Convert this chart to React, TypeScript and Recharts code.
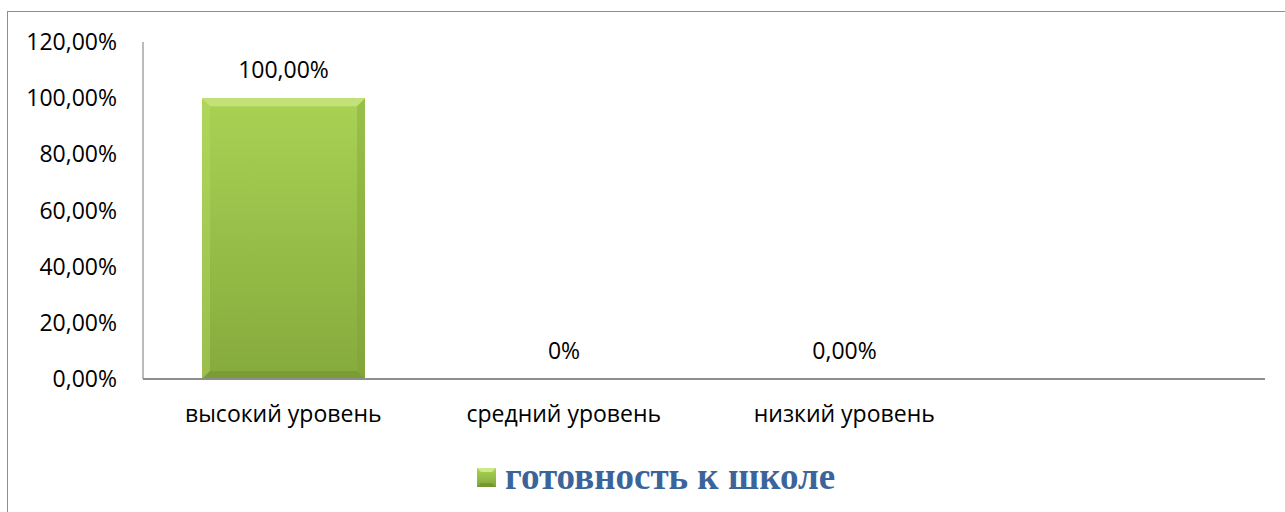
import { BarChart, Bar, XAxis, YAxis, LabelList, Legend } from 'recharts';

const levels = ['высокий уровень', 'средний уровень', 'низкий уровень', ''];
const readiness = [100, 0, 0, null];
const valueLabels = ['100,00%', '0%', '0,00%', ''];
const yTicks = [0, 20, 40, 60, 80, 100, 120];
const seriesName = 'готовность к школе';

const data = levels.map((name, i) => ({ name, value: readiness[i], label: valueLabels[i] }));

const fmtPct = (v: number) => `${v.toFixed(2).replace('.', ',')}%`;

const BevelBar = (props: any) => {
  const { x, y, width: w, height: h } = props;
  if (!h || h <= 0) return null;
  const b = Math.min(8, h / 2, w / 2);
  return (
    <g>
      <rect x={x} y={y} width={w} height={h} fill="url(#barGrad)" />
      <polygon points={`${x},${y} ${x + w},${y} ${x + w - b},${y + b} ${x + b},${y + b}`} fill="#c2e279" />
      <polygon points={`${x},${y} ${x + b},${y + b} ${x + b},${y + h - b} ${x},${y + h}`} fill="#b8dc66" opacity={0.4} />
      <polygon points={`${x + w},${y} ${x + w - b},${y + b} ${x + w - b},${y + h - b} ${x + w},${y + h}`} fill="#7c9e35" opacity={0.35} />
      <polygon points={`${x},${y + h} ${x + b},${y + h - b} ${x + w - b},${y + h - b} ${x + w},${y + h}`} fill="#6b8b2b" opacity={0.45} />
    </g>
  );
};

const LegendBox = () => (
  <div style={{ display: 'flex', alignItems: 'center' }}>
    <svg width={19} height={19} style={{ marginRight: 9 }}>
      <defs>
        <linearGradient id="legGrad" x1="0" y1="0" x2="0" y2="1">
          <stop offset="0%" stopColor="#aad456" />
          <stop offset="100%" stopColor="#82a63a" />
        </linearGradient>
      </defs>
      <rect x={0} y={0} width={19} height={19} fill="url(#legGrad)" />
      <polygon points="0,0 19,0 15,4 4,4" fill="#cde98a" />
      <polygon points="0,19 4,15 15,15 19,19" fill="#6b8b2b" opacity={0.6} />
    </svg>
    <span
      style={{
        fontFamily: '"Liberation Serif", "Times New Roman", serif',
        fontWeight: 'bold',
        fontSize: 37,
        lineHeight: '36px',
        color: '#3b659a',
        whiteSpace: 'nowrap',
      }}
    >
      {seriesName}
    </span>
  </div>
);

export default function App() {
  return (
    <div
      style={{
        position: 'fixed',
        left: 0,
        top: 0,
        width: 1285,
        height: 512,
        overflow: 'hidden',
        background: '#fff',
      }}
    >
      <div
        style={{
          position: 'absolute',
          left: 7,
          top: 11,
          width: 1400,
          height: 600,
          border: '1.5px solid #8e8e8e',
        }}
      />
      <div style={{ position: 'absolute', left: 0, top: 0 }}>
        <BarChart
          width={1285}
          height={512}
          data={data}
          margin={{ top: 42, right: 20, bottom: 0, left: 0 }}
          barSize={163}
        >
          <defs>
            <linearGradient id="barGrad" x1="0" y1="0" x2="0" y2="1">
              <stop offset="0%" stopColor="#a9d254" />
              <stop offset="100%" stopColor="#86aa3d" />
            </linearGradient>
          </defs>
          <XAxis
            dataKey="name"
            height={133}
            tickLine={false}
            tickSize={0}
            tickMargin={27}
            interval={0}
            axisLine={{ stroke: '#8e8e8e', strokeWidth: 2 }}
            tick={{ fill: '#000', fontSize: 23, fontFamily: '"Open Sans", sans-serif' }}
          />
          <YAxis
            width={143}
            domain={[0, 120]}
            ticks={yTicks}
            tickFormatter={fmtPct}
            tickLine={false}
            tickSize={0}
            tickMargin={26}
            axisLine={{ stroke: '#8e8e8e', strokeWidth: 1.2 }}
            tick={{ fill: '#000', fontSize: 23, fontFamily: '"Open Sans", sans-serif' }}
          />
          <Legend
            layout="horizontal"
            verticalAlign="middle"
            align="center"
            wrapperStyle={{ left: 477, top: 459, width: 430, height: 36 }}
            content={() => <LegendBox />}
          />
          <Bar dataKey="value" name={seriesName} shape={BevelBar} isAnimationActive={false}>
            <LabelList
              dataKey="label"
              position="top"
              offset={20}
              fill="#000"
              fontSize={23}
              fontFamily='"Open Sans", sans-serif'
            />
          </Bar>
        </BarChart>
      </div>
    </div>
  );
}
